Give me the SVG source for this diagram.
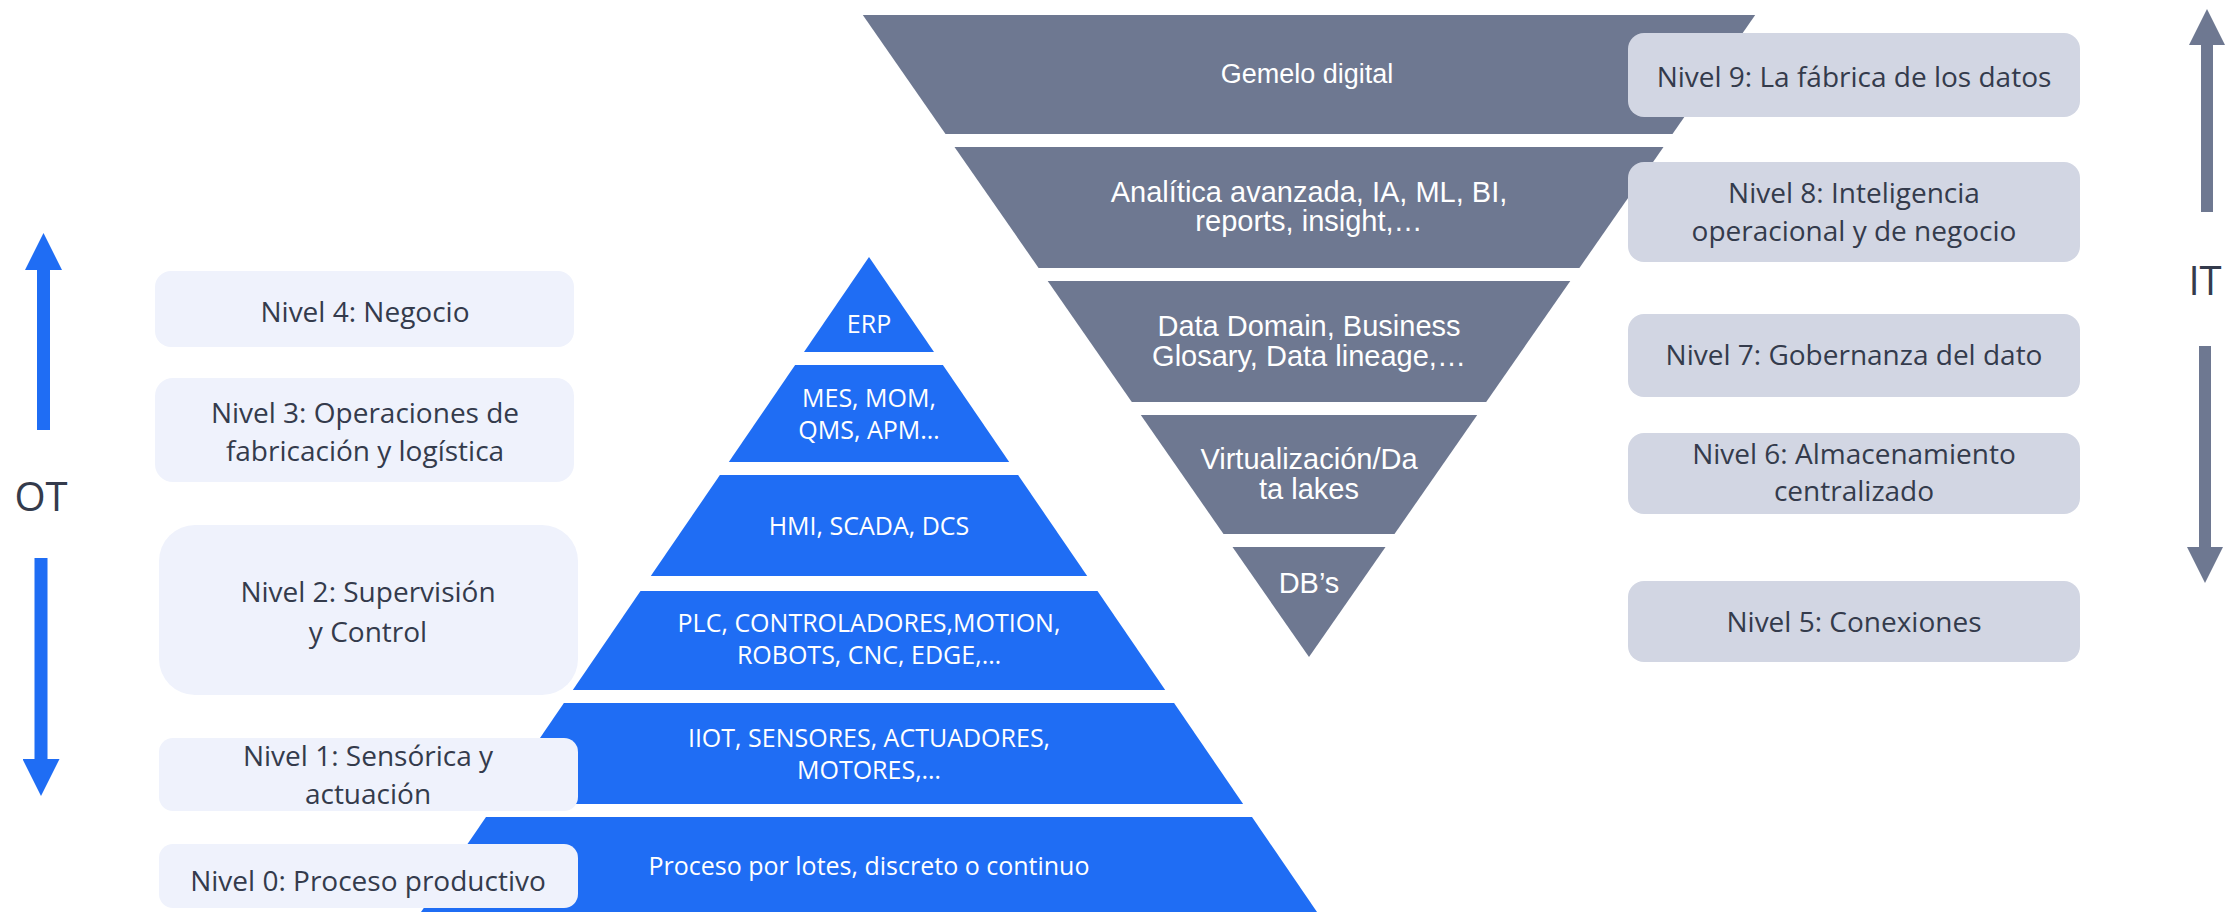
<svg xmlns="http://www.w3.org/2000/svg" width="2239" height="912" viewBox="0 0 2239 912">
<style>
.bg{fill:#ffffff}
.lbox{fill:#EFF2FC}
.rbox{fill:#D2D6E3}
.blue{fill:#1F6DF4}
.grey{fill:#6E7891}
.lt{font-family:"Open Sans","Noto Sans",sans-serif;font-size:28px;fill:#343B4C;text-anchor:middle}
.pt{font-family:"Open Sans","Noto Sans",sans-serif;font-size:25px;fill:#ffffff;text-anchor:middle}
.it{font-family:"Liberation Sans",Arial,sans-serif;font-size:29px;fill:#ffffff;text-anchor:middle}
.side{font-family:"Open Sans","Noto Sans",sans-serif;font-size:40px;fill:#343B4C;text-anchor:middle}
.ab{stroke:#1F6DF4;stroke-width:13;fill:none}
.ag{stroke:#6E7891;stroke-width:12;fill:none}
</style>
<defs>
<marker id="hb" markerUnits="userSpaceOnUse" markerWidth="37" markerHeight="37" refX="0" refY="18.5" orient="auto">
<path d="M0,0 L37,18.5 L0,37 Z" fill="#1F6DF4"/>
</marker>
<marker id="hg" markerUnits="userSpaceOnUse" markerWidth="36" markerHeight="36" refX="0" refY="18" orient="auto">
<path d="M0,0 L36,18 L0,36 Z" fill="#6E7891"/>
</marker>
</defs>
<rect class="bg" x="0" y="0" width="2239" height="912"/>

<g id="pyramid">
<g id="p-erp"><polygon class="blue" points="869,257 934,352 804,352"/><text class="pt" x="869" y="333">ERP</text></g>
<g id="p-mes"><polygon class="blue" points="795.1,365 942.9,365 1009.2,462 728.8,462"/><text class="pt" x="869" y="407">MES, MOM,</text><text class="pt" x="869" y="439">QMS, APM…</text></g>
<g id="p-hmi"><polygon class="blue" points="719.9,475 1018.1,475 1087.2,576 650.8,576"/><text class="pt" x="869" y="535">HMI, SCADA, DCS</text></g>
<g id="p-plc"><polygon class="blue" points="640.5,591 1097.5,591 1165.2,690 572.8,690"/><text class="pt" x="869" y="632">PLC, CONTROLADORES,MOTION,</text><text class="pt" x="869" y="664">ROBOTS, CNC, EDGE,…</text></g>
<g id="p-iiot"><polygon class="blue" points="563.9,703 1174.1,703 1243.1,804 494.9,804"/><text class="pt" x="869" y="747">IIOT, SENSORES, ACTUADORES,</text><text class="pt" x="869" y="779">MOTORES,…</text></g>
<g id="p-proc"><polygon class="blue" points="486,817 1252,817 1317,912 421,912"/><text class="pt" x="869" y="875">Proceso por lotes, discreto o continuo</text></g>
</g>

<g id="funnel">
<g id="f-gemelo"><polygon class="grey" points="862.8,15 1755.2,15 1672.5,134 945.5,134"/><text class="it" x="1307" y="83" style="font-size:27px">Gemelo digital</text></g>
<g id="f-analitica"><polygon class="grey" points="954.5,147 1663.5,147 1579.4,268 1038.6,268"/><text class="it" x="1309" y="202">Analítica avanzada, IA, ML, BI,</text><text class="it" x="1309" y="231">reports, insight,…</text></g>
<g id="f-data"><polygon class="grey" points="1047.7,281 1570.3,281 1486.2,402 1131.8,402"/><text class="it" x="1309" y="336">Data Domain, Business</text><text class="it" x="1309" y="366">Glosary, Data lineage,…</text></g>
<g id="f-virt"><polygon class="grey" points="1140.8,415 1477.2,415 1394.5,534 1223.5,534"/><text class="it" x="1309" y="469">Virtualización/Da</text><text class="it" x="1309" y="499">ta lakes</text></g>
<g id="f-db"><polygon class="grey" points="1232.5,547 1385.5,547 1309,657"/><text class="it" x="1309" y="593">DB’s</text></g>
</g>

<g id="nivel4"><rect class="lbox" x="155" y="271" width="419" height="76" rx="16"/><text class="lt" x="365" y="322">Nivel 4: Negocio</text></g>
<g id="nivel3"><rect class="lbox" x="155" y="378" width="419" height="104" rx="18"/><text class="lt" x="365" y="423">Nivel 3: Operaciones de</text><text class="lt" x="365" y="461">fabricación y logística</text></g>
<g id="nivel2"><rect class="lbox" x="159" y="525" width="419" height="170" rx="36"/><text class="lt" x="368" y="602">Nivel 2: Supervisión</text><text class="lt" x="368" y="642">y Control</text></g>
<g id="nivel1"><rect class="lbox" x="159" y="738" width="419" height="73" rx="14"/><text class="lt" x="368" y="766">Nivel 1: Sensórica y</text><text class="lt" x="368" y="804">actuación</text></g>
<g id="nivel0"><rect class="lbox" x="159" y="844" width="419" height="64" rx="14"/><text class="lt" x="368" y="891">Nivel 0: Proceso productivo</text></g>

<g id="nivel9"><rect class="rbox" x="1628" y="33" width="452" height="84" rx="16"/><text class="lt" x="1854" y="87">Nivel 9: La fábrica de los datos</text></g>
<g id="nivel8"><rect class="rbox" x="1628" y="162" width="452" height="100" rx="16"/><text class="lt" x="1854" y="203">Nivel 8: Inteligencia</text><text class="lt" x="1854" y="241">operacional y de negocio</text></g>
<g id="nivel7"><rect class="rbox" x="1628" y="314" width="452" height="83" rx="16"/><text class="lt" x="1854" y="365">Nivel 7: Gobernanza del dato</text></g>
<g id="nivel6"><rect class="rbox" x="1628" y="433" width="452" height="81" rx="16"/><text class="lt" x="1854" y="464">Nivel 6: Almacenamiento</text><text class="lt" x="1854" y="501">centralizado</text></g>
<g id="nivel5"><rect class="rbox" x="1628" y="581" width="452" height="81" rx="16"/><text class="lt" x="1854" y="632">Nivel 5: Conexiones</text></g>

<g id="ot-label"><text class="side" x="41" y="511">OT</text></g>
<g id="it-label"><text class="side" x="2205" y="295">IT</text></g>

<g id="connectors">
<line class="ab" x1="43.5" y1="430" x2="43.5" y2="270" marker-end="url(#hb)"/>
<line class="ab" x1="41" y1="558" x2="41" y2="759" marker-end="url(#hb)"/>
<line class="ag" x1="2207" y1="212" x2="2207" y2="45" marker-end="url(#hg)"/>
<line class="ag" x1="2205" y1="346" x2="2205" y2="547" marker-end="url(#hg)"/>
</g>
</svg>
